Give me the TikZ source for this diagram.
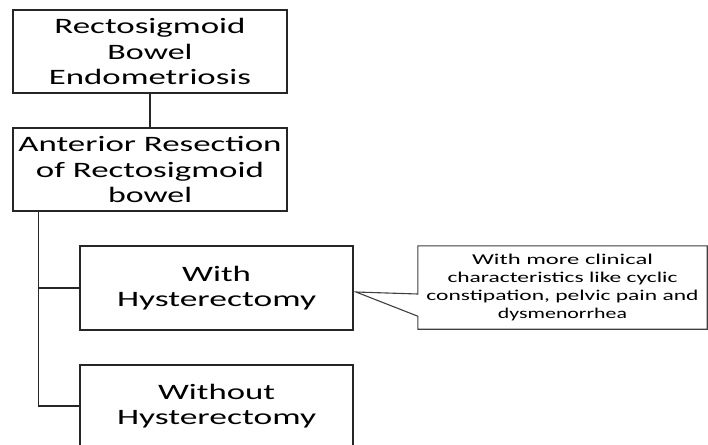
\documentclass[tikz,border=0pt]{standalone}
\usepackage{fontspec}
\setmainfont{Carlito}
\usepackage{graphicx}
\newcommand{\fitw}[2]{\resizebox{#1pt}{\height}{#2}}
\begin{document}
\begin{tikzpicture}[x=1pt,y=-1pt,
  boxstyle/.style={draw=black!85, line width=1.3pt, inner sep=0pt, align=center,
    font=\fontsize{22}{25.5}\selectfont, text=black},
  link/.style={draw=black!85, line width=1.3pt},
  notestyle/.style={inner sep=0pt, align=center, font=\fontsize{15}{17.8}\selectfont, text=black}]
\clip (0,0) rectangle (708,444);
\fill[white] (0,0) rectangle (708,444);

\node[boxstyle, minimum width=274pt, minimum height=83pt] (b1) at (150,51.5)
  {\fitw{191}{Rectosigmoid}\\\fitw{85}{Bowel}\\\fitw{202}{Endometriosis}};
\node[boxstyle, minimum width=274pt, minimum height=83pt] (b2) at (150,169.5)
  {\fitw{263}{Anterior Resection}\\\fitw{228}{of Rectosigmoid}\\\fitw{84}{bowel}};
\node[boxstyle, minimum width=273pt, minimum height=84pt] (b3) at (216.5,288)
  {\fitw{69}{With}\\\fitw{199}{Hysterectomy}};
\node[boxstyle, minimum width=273pt, minimum height=82pt] (b4) at (216.5,406)
  {\fitw{117}{Without}\\\fitw{199}{Hysterectomy}};

\node[notestyle, minimum width=289pt, minimum height=83pt] (note) at (562.5,287.5)
  {\fitw{181}{With more clinical}\\\fitw{230}{characteristics like cyclic}\\\fitw{272}{constipation, pelvic pain and}\\\fitw{129}{dysmenorrhea}};
\coordinate (tip) at (356,292);
\draw[link, line width=1.1pt, draw=black!75] (note.north west) -- (note.north east) -- (note.south east) -- (note.south west)
  -- ([yshift=13pt]note.south west) -- (tip) -- ([yshift=-6.5pt]note.west) -- cycle;

\draw[link] (b1.south) -- (b2.north);
\coordinate (t0) at ([xshift=26pt]b2.south west);
\draw[link] (t0) |- (b4.west);
\draw[link] (b3.west) -- (b3.west -| t0);
\end{tikzpicture}
\end{document}
